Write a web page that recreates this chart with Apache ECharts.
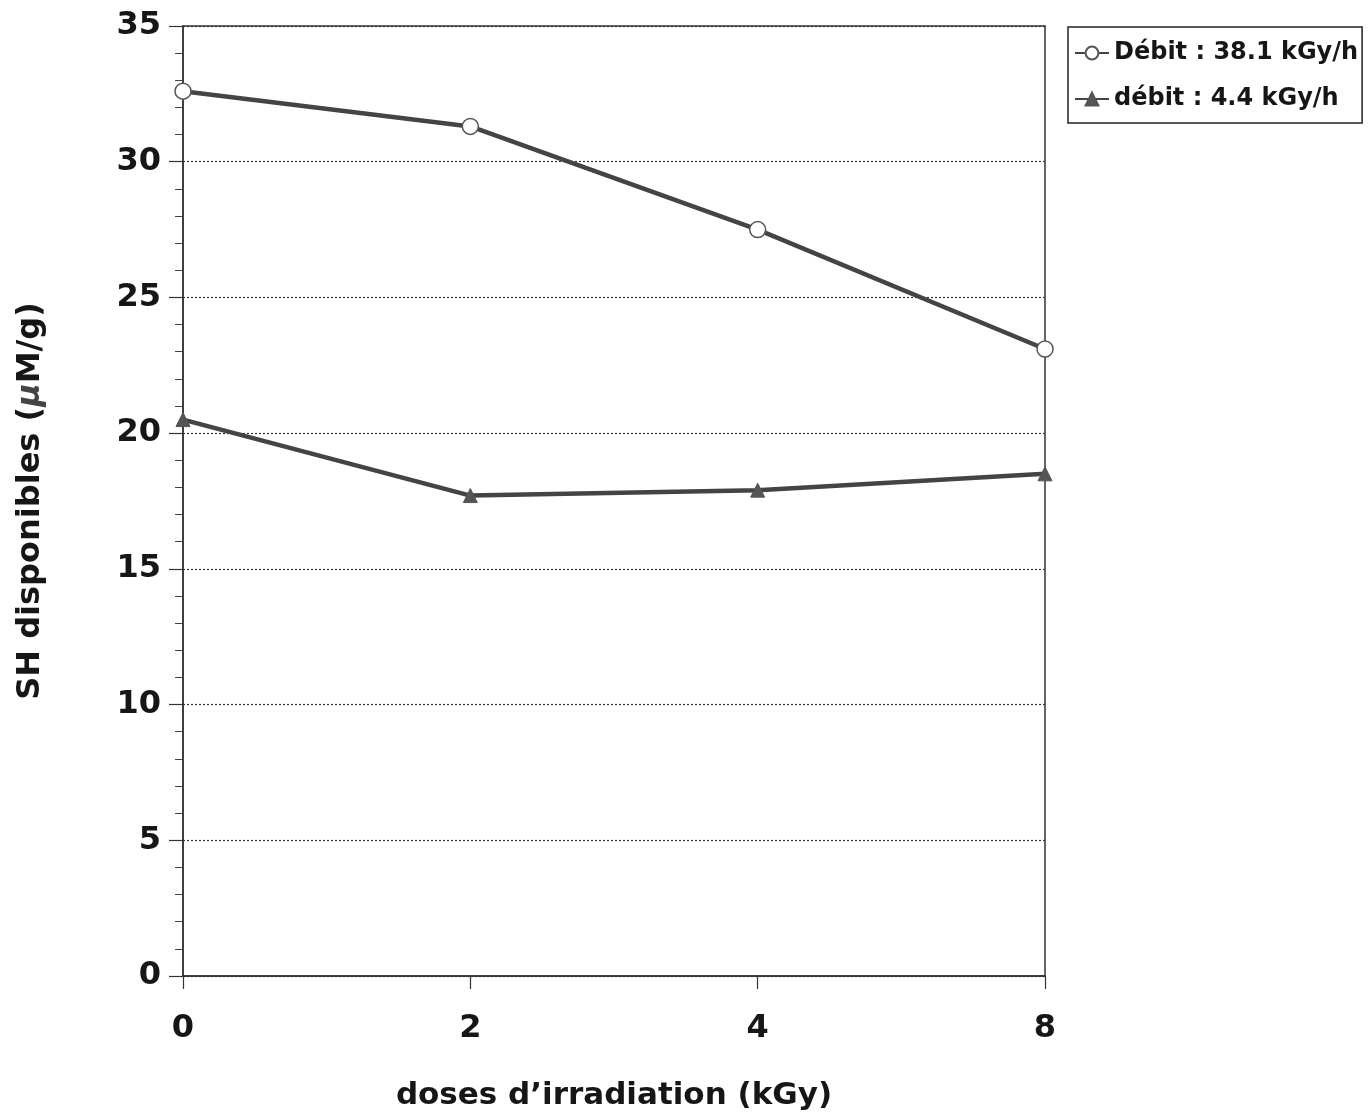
<!DOCTYPE html>
<html>
<head>
<meta charset="utf-8">
<script src="https://cdn.jsdelivr.net/npm/echarts@6/dist/echarts.min.js"></script>
<style>html,body{margin:0;padding:0;background:#fff}#c{width:1368px;height:1119px}</style>
</head>
<body>
<div id="c"></div>
<script>
const categories = ['0', '2', '4', '8'];
const seriesHigh = [32.6, 31.3, 27.5, 23.1];
const seriesLow = [20.5, 17.7, 17.9, 18.5];
const seriesNames = ['Débit : 38.1 kGy/h', 'débit : 4.4 kGy/h'];
const yTicks = [0, 5, 10, 15, 20, 25, 30, 35];

const chart = echarts.init(document.getElementById('c'));
const FONT = '"DejaVu Sans", "Liberation Sans", Arial, sans-serif';
const INK = '#161616';
chart.setOption({
  animation: false,
  backgroundColor: '#fff',
  textStyle: { fontFamily: FONT },
  grid: { left: 183, right: 323, top: 26, bottom: 143, show: true, borderColor: '#333', borderWidth: 1.5, backgroundColor: 'transparent' },
  legend: {
    orient: 'vertical', left: 1068, top: 27,
    padding: [14, 4, 12, 6], itemGap: 22, itemWidth: 34, itemHeight: 16,
    borderColor: '#222', borderWidth: 1.5,
    textStyle: { fontFamily: FONT, fontSize: 24, fontWeight: 'bold', color: INK },
    data: seriesNames
  },
  xAxis: {
    type: 'category', data: categories, boundaryGap: false,
    name: 'doses d\u2019irradiation (kGy)', nameLocation: 'middle', nameGap: 104,
    nameTextStyle: { fontFamily: FONT, fontSize: 31, fontWeight: 'bold', color: INK },
    axisLine: { lineStyle: { color: '#333', width: 1.5 } },
    axisTick: { show: true, length: 13, inside: false, alignWithLabel: true, lineStyle: { color: '#333', width: 1.2 } },
    axisLabel: { fontFamily: FONT, fontSize: 32, fontWeight: 'bold', color: INK, margin: 37 },
    splitLine: { show: false }
  },
  yAxis: {
    type: 'value', min: 0, max: 35, interval: 5,
    name: 'SH disponibles ({i|\u03bc}M/g)', nameLocation: 'middle', nameGap: 136, nameRotate: 90,
    nameTextStyle: { fontFamily: FONT, fontSize: 32, fontWeight: 'bold', color: INK,
      rich: { i: { fontFamily: FONT, fontSize: 32, fontWeight: 'bold', fontStyle: 'italic', color: '#444' } } },
    axisLine: { show: true, lineStyle: { color: '#333', width: 1.5 } },
    axisTick: { show: true, length: 14, lineStyle: { color: '#333', width: 1.2 } },
    minorTick: { show: true, splitNumber: 5, length: 8, lineStyle: { color: '#444', width: 1 } },
    axisLabel: { fontFamily: FONT, fontSize: 32, fontWeight: 'bold', color: INK, margin: 22, padding: [8, 0, 0, 0],
      formatter: v => yTicks.includes(v) ? String(v) : '' },
    splitLine: { show: true, lineStyle: { color: '#333', width: 1.2, type: [2, 2] } }
  },
  series: [
    {
      name: seriesNames[0], type: 'line', data: seriesHigh,
      symbol: 'circle', symbolSize: 16, showSymbol: true,
      lineStyle: { color: '#444', width: 4.5 },
      itemStyle: { color: '#fff', borderColor: '#555', borderWidth: 1.5 },
      z: 3
    },
    {
      name: seriesNames[1], type: 'line', data: seriesLow,
      symbol: 'triangle', symbolSize: 14, showSymbol: true,
      lineStyle: { color: '#444', width: 4.5 },
      itemStyle: { color: '#555', borderColor: '#555', borderWidth: 1 },
      z: 3
    }
  ]
});
</script>
</body>
</html>
